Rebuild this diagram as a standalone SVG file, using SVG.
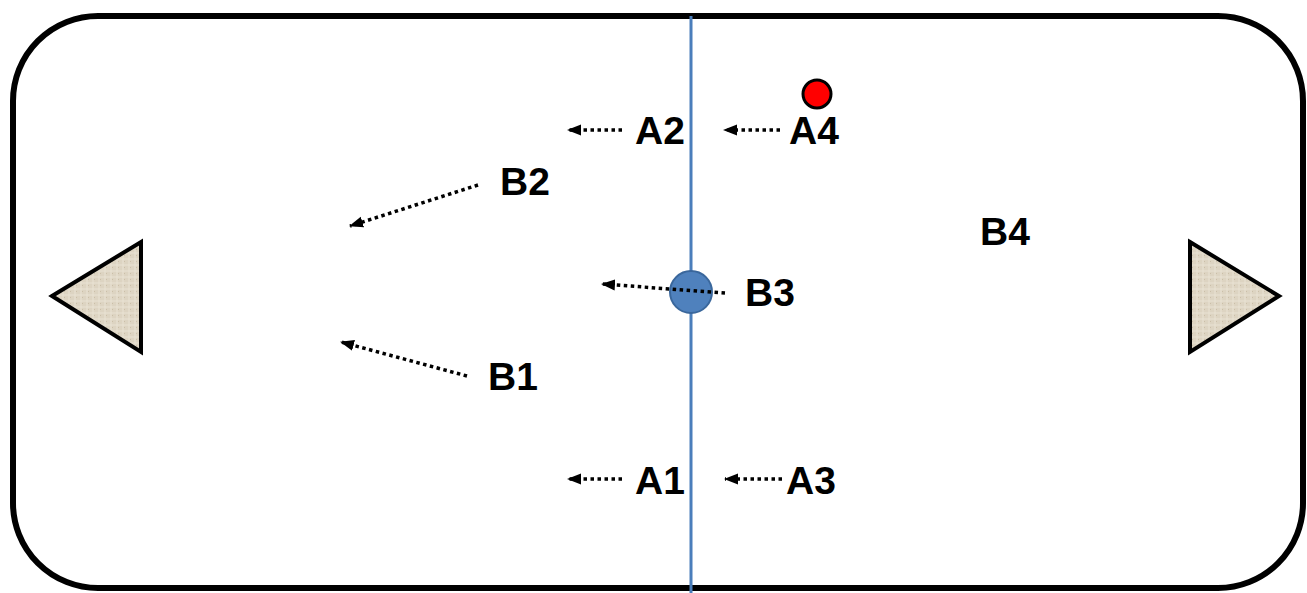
<svg xmlns="http://www.w3.org/2000/svg" width="1307" height="593" viewBox="0 0 1307 593">
<defs>
<marker id="ah" markerWidth="14" markerHeight="12" refX="13" refY="6" orient="auto" markerUnits="userSpaceOnUse">
<path d="M14,6 L0,0.5 L0,11.5 Z" fill="#000"/>
</marker>
<pattern id="tex" width="6" height="6" patternUnits="userSpaceOnUse">
<rect width="6" height="6" fill="#ddd4c2"/>
<path d="M0,1 H6 M3,0 V6" stroke="#eae3d4" stroke-width="1"/>
<rect x="4" y="3" width="1" height="1" fill="#cbbfa8"/>
</pattern>
<style>
.lbl{font-family:"Liberation Sans",Arial,sans-serif;font-weight:bold;font-size:39px;fill:#000}
.dot{stroke:#000;stroke-width:3.5;stroke-dasharray:3.5 3.5;fill:none}
.tri{fill:url(#tex);stroke:#000;stroke-width:4;stroke-linejoin:miter}
</style>
</defs>
<rect x="0" y="0" width="1307" height="593" fill="#fff"/>
<g id="frame">
<rect x="13" y="16" width="1290" height="572" rx="85" ry="85" fill="#fff" stroke="#000" stroke-width="6"/>
</g>
<g id="centerline">
<line x1="691" y1="16" x2="691" y2="593" stroke="#4a7ebb" stroke-width="3"/>
</g>
<g id="goal-left"><polygon class="tri" points="52,296 141,242 141,352"/></g>
<g id="goal-right"><polygon class="tri" points="1190,242 1279,296 1190,352"/></g>
<g id="ball"><circle cx="691" cy="292" r="21" fill="#4f81bd" stroke="#3a679c" stroke-width="2"/></g>
<g id="red-dot"><circle cx="817" cy="94" r="14" fill="#ff0000" stroke="#000" stroke-width="3"/></g>
<g id="connectors">
<path class="dot" d="M622,130 L568,130" marker-end="url(#ah)"/>
<path class="dot" d="M780,130 L724,130" marker-end="url(#ah)"/>
<path class="dot" d="M478,185 L350,226" marker-end="url(#ah)"/>
<path class="dot" d="M725,293 L602,284" marker-end="url(#ah)"/>
<path class="dot" d="M467,376 L341,342" marker-end="url(#ah)"/>
<path class="dot" d="M622,479 L568,479" marker-end="url(#ah)"/>
<path class="dot" d="M782,479 L725,479" marker-end="url(#ah)"/>
</g>
<g id="labels">
<text class="lbl" x="635" y="144">A2</text>
<text class="lbl" x="789" y="144">A4</text>
<text class="lbl" x="500" y="195">B2</text>
<text class="lbl" x="980" y="245">B4</text>
<text class="lbl" x="745" y="306">B3</text>
<text class="lbl" x="488" y="390">B1</text>
<text class="lbl" x="635" y="494">A1</text>
<text class="lbl" x="786" y="494">A3</text>
</g>
</svg>
